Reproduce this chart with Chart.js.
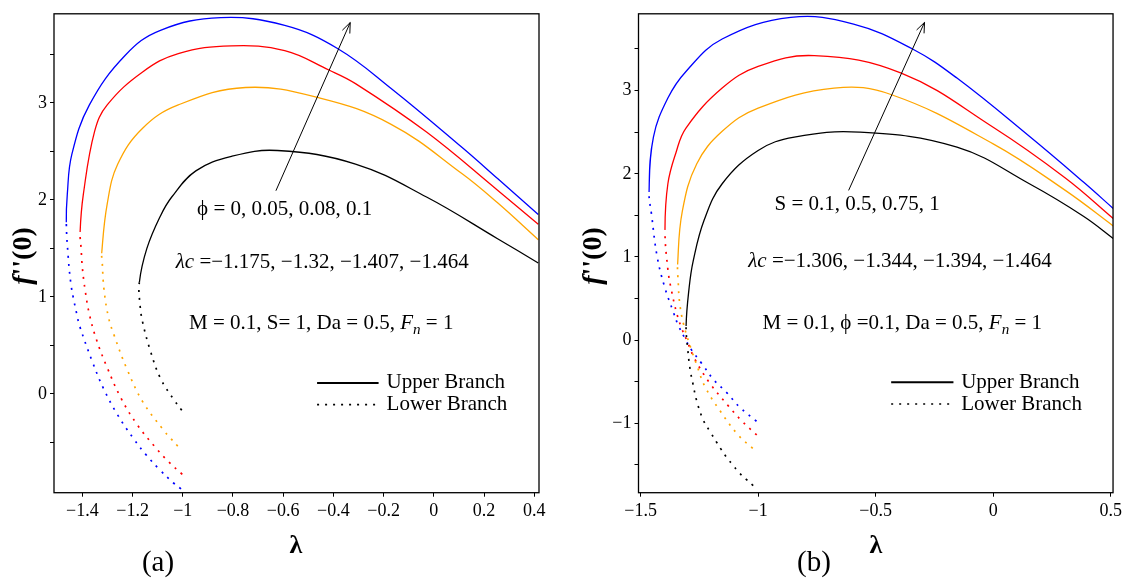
<!DOCTYPE html>
<html>
<head>
<meta charset="utf-8">
<script src="https://cdn.jsdelivr.net/npm/chart.js@4.4.0/dist/chart.umd.min.js"></script>
<style>
  html, body { margin: 0; padding: 0; background: #fff; }
  #wrap { position: relative; width: 1126px; height: 581px; }
  .panel { position: absolute; top: 0; width: 563px; height: 581px; }
</style>
</head>
<body>
<div id="wrap">
  <div class="panel" style="left:0"><canvas id="chartA" width="563" height="581"></canvas></div>
  <div class="panel" style="left:563px"><canvas id="chartB" width="563" height="581"></canvas></div>
</div>
<script>
// ---- panel (a): phi = 0, 0.05, 0.08, 0.1 ----
// upper and lower branches both start at the turning point lambda_c
const aXTicks = [-1.4, -1.2, -1, -0.8, -0.6, -0.4, -0.2, 0, 0.2, 0.4];
const aYTicks = [0, 1, 2, 3];
const aYMinor = [-0.5, 0.5, 1.5, 2.5, 3.5];

const aBlackUpX = [-1.173, -1.143, -1.090, -1.044, -0.948, -0.806, -0.623, -0.312, -0.029, 0.254, 0.416];
const aBlackUpY = [1.15, 1.50, 1.83, 2.03, 2.30, 2.45, 2.51, 2.37, 2.03, 1.60, 1.35];
const aBlackLoX = [-1.173, -1.170, -1.160, -1.131, -1.089, -1.033, -1.004];
const aBlackLoY = [1.15, 0.91, 0.74, 0.46, 0.16, -0.07, -0.17];

const aOrangeUpX = [-1.323, -1.301, -1.259, -1.160, -1.018, -0.750, -0.453, -0.170, 0.113, 0.254, 0.416];
const aOrangeUpY = [1.45, 1.96, 2.37, 2.74, 2.98, 3.16, 3.05, 2.78, 2.27, 1.97, 1.59];
const aOrangeLoX = [-1.323, -1.321, -1.314, -1.296, -1.273, -1.223, -1.160, -1.075, -1.048, -1.020];
const aOrangeLoY = [1.45, 1.36, 1.08, 0.79, 0.60, 0.26, -0.08, -0.38, -0.46, -0.54];

const aRedUpX = [-1.409, -1.396, -1.351, -1.301, -1.160, -1.018, -0.806, -0.594, -0.418, -0.312, -0.029, 0.254, 0.416];
const aRedUpY = [1.67, 2.06, 2.71, 2.98, 3.32, 3.51, 3.59, 3.54, 3.34, 3.20, 2.70, 2.10, 1.75];
const aRedLoX = [-1.409, -1.405, -1.400, -1.389, -1.372, -1.344, -1.301, -1.245, -1.181, -1.110, -1.057, -1.002];
const aRedLoY = [1.67, 1.50, 1.30, 1.07, 0.82, 0.56, 0.27, -0.05, -0.32, -0.55, -0.70, -0.83];

const aBlueUpX = [-1.464, -1.460, -1.442, -1.372, -1.230, -1.089, -0.849, -0.594, -0.382, -0.170, 0.113, 0.254, 0.416];
const aBlueUpY = [1.77, 2.06, 2.47, 2.98, 3.49, 3.75, 3.88, 3.80, 3.56, 3.15, 2.54, 2.22, 1.85];
const aBlueLoX = [-1.464, -1.456, -1.446, -1.436, -1.422, -1.411, -1.360, -1.315, -1.259, -1.194, -1.146, -1.093, -1.037, -1.007];
const aBlueLoY = [1.77, 1.40, 1.14, 0.99, 0.82, 0.70, 0.33, 0.05, -0.22, -0.47, -0.63, -0.78, -0.92, -0.98];

// ---- panel (b): S = 0.1, 0.5, 0.75, 1 ----
const bXTicks = [-1.5, -1, -0.5, 0, 0.5];
const bYTicks = [-1, 0, 1, 2, 3];
const bYMinor = [-1.5, -0.5, 0.5, 1.5, 2.5, 3.5];

const bBlackUpX = [-1.3065, -1.294, -1.2764, -1.230, -1.153, -1.000, -0.846, -0.569, -0.154, 0.154, 0.384, 0.512];
const bBlackUpY = [0.17, 0.62, 0.95, 1.44, 1.88, 2.28, 2.44, 2.50, 2.32, 1.88, 1.49, 1.22];
const bBlackLoX = [-1.3065, -1.2997, -1.290, -1.277, -1.2614, -1.2333, -1.200, -1.176, -1.158, -1.134, -1.108, -1.082, -1.052, -1.021];
const bBlackLoY = [0.17, -0.10, -0.34, -0.53, -0.73, -0.96, -1.12, -1.23, -1.31, -1.41, -1.50, -1.59, -1.67, -1.75];

const bOrangeUpX = [-1.3425, -1.3225, -1.261, -1.153, -1.000, -0.677, -0.432, 0.000, 0.307, 0.512];
const bOrangeUpY = [0.91, 1.55, 2.12, 2.51, 2.79, 3.03, 2.95, 2.36, 1.80, 1.37];
const bOrangeLoX = [-1.3425, -1.340, -1.334, -1.318, -1.286, -1.261, -1.226, -1.162, -1.085, -1.023];
const bOrangeLoY = [0.91, 0.70, 0.45, 0.20, -0.10, -0.30, -0.56, -0.85, -1.14, -1.30];

const bRedUpX = [-1.3963, -1.384, -1.350, -1.307, -1.153, -1.000, -0.761, -0.391, 0.000, 0.307, 0.512];
const bRedUpY = [1.33, 1.88, 2.25, 2.55, 3.03, 3.29, 3.42, 3.21, 2.56, 1.95, 1.46];
const bRedLoX = [-1.3963, -1.384, -1.369, -1.346, -1.325, -1.301, -1.269, -1.205, -1.127, -1.070, -1.006];
const bRedLoY = [1.33, 0.85, 0.60, 0.32, 0.14, -0.02, -0.23, -0.52, -0.79, -0.97, -1.14];

const bBlueUpX = [-1.464, -1.4455, -1.384, -1.307, -1.153, -0.861, -0.594, -0.343, -0.154, 0.154, 0.384, 0.512];
const bBlueUpY = [1.78, 2.44, 2.91, 3.23, 3.62, 3.88, 3.80, 3.50, 3.15, 2.45, 1.90, 1.58];
const bBlueLoX = [-1.464, -1.453, -1.430, -1.399, -1.361, -1.340, -1.311, -1.283, -1.240, -1.191, -1.134, -1.077, -1.007];
const bBlueLoY = [1.78, 1.50, 1.01, 0.65, 0.34, 0.18, 0.02, -0.12, -0.28, -0.47, -0.63, -0.81, -0.975];

const SERIF = '"Liberation Serif", "Times New Roman", serif';
const BLACK = '#000000', ORANGE = '#ffa500', RED = '#ff0000', BLUE = '#0000ff';
const NOTE_SIZE = 21;

// one path per colour: lower branch walked back to the turning point, then the upper branch
function branchPair(upX, upY, loX, loY, color) {
  const pts = [];
  for (let i = loX.length - 1; i >= 0; i--) pts.push({ x: loX[i], y: loY[i] });
  for (let i = 1; i < upX.length; i++) pts.push({ x: upX[i], y: upY[i] });
  const nose = loX.length - 1;
  return {
    data: pts,
    borderColor: color,
    borderWidth: 1.3,
    pointRadius: 0,
    fill: false,
    tension: 0.4,
    segment: {
      borderDash: c => (c.p0DataIndex < nose ? [2, 6] : undefined),
      borderWidth: c => (c.p0DataIndex < nose ? 1.7 : undefined)
    }
  };
}

function fmt(v) {
  return String(v).replace('-', '\u2212');
}

function fontOf(p, size) {
  return (p.italic ? 'italic ' : '') + (p.bold ? 'bold ' : '') + size + 'px ' + SERIF;
}

function partsWidth(ctx, parts, size) {
  let w = 0;
  parts.forEach(p => {
    ctx.font = fontOf(p, p.sub ? size * 0.72 : size);
    w += ctx.measureText(p.t).width;
  });
  return w;
}

function drawParts(ctx, x, y, parts, size) {
  let cx = x;
  parts.forEach(p => {
    const sz = p.sub ? size * 0.72 : size;
    ctx.font = fontOf(p, sz);
    ctx.fillText(p.t, cx, y + (p.sub ? size * 0.32 : 0));
    cx += ctx.measureText(p.t).width;
  });
}

// frame, notes, legend, arrow, axis titles
function decorations(cfg) {
  return {
    id: 'decorations',
    afterDraw(chart) {
      const ctx = chart.ctx, a = chart.chartArea;
      const sx = chart.scales.x, sy = chart.scales.y;
      const px = v => sx.getPixelForValue(v);
      const py = v => sy.getPixelForValue(v);
      ctx.save();
      ctx.strokeStyle = '#000';
      ctx.fillStyle = '#000';
      ctx.lineWidth = 1.3;
      ctx.strokeRect(a.left, a.top, a.right - a.left, a.bottom - a.top);

      ctx.textBaseline = 'middle';
      ctx.textAlign = 'left';
      cfg.notes.forEach(n => drawParts(ctx, px(n.x), py(n.y), n.parts, NOTE_SIZE));

      // legend
      const lg = cfg.legend;
      ctx.lineWidth = 2;
      ctx.beginPath();
      ctx.moveTo(px(lg.x0), py(lg.yUp));
      ctx.lineTo(px(lg.x1), py(lg.yUp));
      ctx.stroke();
      ctx.lineWidth = 1.7;
      ctx.setLineDash([2, 6]);
      ctx.beginPath();
      ctx.moveTo(px(lg.x0), py(lg.yLo));
      ctx.lineTo(px(lg.x1), py(lg.yLo));
      ctx.stroke();
      ctx.setLineDash([]);
      drawParts(ctx, px(lg.tx), py(lg.yUp), [{ t: 'Upper Branch' }], NOTE_SIZE);
      drawParts(ctx, px(lg.tx), py(lg.yLo), [{ t: 'Lower Branch' }], NOTE_SIZE);

      // arrow
      const x0 = px(cfg.arrow.from[0]), y0 = py(cfg.arrow.from[1]);
      const x1 = px(cfg.arrow.to[0]), y1 = py(cfg.arrow.to[1]);
      ctx.lineWidth = 1;
      ctx.beginPath();
      ctx.moveTo(x0, y0);
      ctx.lineTo(x1, y1);
      ctx.stroke();
      const ang = Math.atan2(y1 - y0, x1 - x0), L = 11, sp = 0.38;
      ctx.beginPath();
      ctx.moveTo(x1 - L * Math.cos(ang - sp), y1 - L * Math.sin(ang - sp));
      ctx.lineTo(x1, y1);
      ctx.lineTo(x1 - L * Math.cos(ang + sp), y1 - L * Math.sin(ang + sp));
      ctx.stroke();

      // axis titles and panel label
      ctx.textAlign = 'center';
      ctx.font = 'bold 26px ' + SERIF;
      ctx.fillText('\u03bb', cfg.xTitle[0], cfg.xTitle[1]);
      ctx.font = '29px ' + SERIF;
      ctx.fillText(cfg.tag, cfg.tagPos[0], cfg.tagPos[1]);

      ctx.translate(cfg.yTitle[0], cfg.yTitle[1]);
      ctx.rotate(-Math.PI / 2);
      ctx.textAlign = 'left';
      const yt = [{ t: 'f', italic: true, bold: true }, { t: "''(0)", bold: true }];
      drawParts(ctx, -partsWidth(ctx, yt, 28) / 2, 0, yt, 28);
      ctx.restore();
    }
  };
}

function makeChart(id, cfg) {
  const W = 563, H = 581;
  const ar = cfg.area;
  const tickFont = { family: SERIF, size: 18 };
  return new Chart(document.getElementById(id), {
    type: 'line',
    data: { datasets: cfg.series },
    options: {
      responsive: false,
      animation: false,
      events: [],
      layout: { padding: { left: 0, top: ar.top, right: W - ar.right, bottom: 0 } },
      plugins: { legend: { display: false }, tooltip: { enabled: false } },
      scales: {
        x: {
          type: 'linear',
          min: cfg.xMin,
          max: cfg.xMax,
          afterFit: s => { s.height = H - ar.bottom; },
          afterBuildTicks: s => { s.ticks = cfg.xTicks.map(v => ({ value: v })); },
          ticks: {
            autoSkip: false, maxRotation: 0, padding: 4, color: '#000', font: tickFont,
            callback: v => fmt(v)
          },
          grid: { drawOnChartArea: false, drawTicks: true, tickLength: 4, color: '#000', lineWidth: 1 },
          border: { display: false }
        },
        y: {
          type: 'linear',
          min: cfg.yMin,
          max: cfg.yMax,
          afterFit: s => { s.width = ar.left; },
          afterBuildTicks: s => {
            s.ticks = cfg.yTicks.concat(cfg.yMinor).sort((p, q) => p - q).map(v => ({ value: v }));
          },
          ticks: {
            autoSkip: false, padding: 3, color: '#000', font: tickFont,
            callback: v => (cfg.yTicks.includes(v) ? fmt(v) : '')
          },
          grid: { drawOnChartArea: false, drawTicks: true, tickLength: 4, color: '#000', lineWidth: 1 },
          border: { display: false }
        }
      }
    },
    plugins: [decorations(cfg)]
  });
}

makeChart('chartA', {
  area: { left: 54, right: 539, top: 8, bottom: 492.7 },
  xMin: -1.513, xMax: 0.419, yMin: -1.02, yMax: 3.92,
  xTicks: aXTicks, yTicks: aYTicks, yMinor: aYMinor,
  series: [
    branchPair(aBlackUpX, aBlackUpY, aBlackLoX, aBlackLoY, BLACK),
    branchPair(aOrangeUpX, aOrangeUpY, aOrangeLoX, aOrangeLoY, ORANGE),
    branchPair(aRedUpX, aRedUpY, aRedLoX, aRedLoY, RED),
    branchPair(aBlueUpX, aBlueUpY, aBlueLoX, aBlueLoY, BLUE)
  ],
  notes: [
    { x: -0.943, y: 1.900, parts: [{ t: '\u03d5 = 0, 0.05, 0.08, 0.1' }] },
    { x: -1.028, y: 1.357, parts: [{ t: '\u03bbc', italic: true }, { t: ' =\u22121.175, \u22121.32, \u22121.407, \u22121.464' }] },
    { x: -0.975, y: 0.724, parts: [{ t: 'M = 0.1, S= 1, Da = 0.5, ' }, { t: 'F', italic: true }, { t: 'n', italic: true, sub: true }, { t: ' = 1' }] }
  ],
  legend: { x0: -0.465, x1: -0.22, tx: -0.188, yUp: 0.112, yLo: -0.112 },
  arrow: { from: [-0.629, 2.095], to: [-0.333, 3.83] },
  xTitle: [296, 546], yTitle: [24, 256], tag: '(a)', tagPos: [158, 563]
});

makeChart('chartB', {
  area: { left: 75.5, right: 550.5, top: 8, bottom: 492.7 },
  xMin: -1.509, xMax: 0.510, yMin: -1.834, yMax: 3.923,
  xTicks: bXTicks, yTicks: bYTicks, yMinor: bYMinor,
  series: [
    branchPair(bBlackUpX, bBlackUpY, bBlackLoX, bBlackLoY, BLACK),
    branchPair(bOrangeUpX, bOrangeUpY, bOrangeLoX, bOrangeLoY, ORANGE),
    branchPair(bRedUpX, bRedUpY, bRedLoX, bRedLoY, RED),
    branchPair(bBlueUpX, bBlueUpY, bBlueLoX, bBlueLoY, BLUE)
  ],
  notes: [
    { x: -0.930, y: 1.625, parts: [{ t: 'S = 0.1, 0.5, 0.75, 1' }] },
    { x: -1.042, y: 0.945, parts: [{ t: '\u03bbc', italic: true }, { t: ' =\u22121.306, \u22121.344, \u22121.394, \u22121.464' }] },
    { x: -0.981, y: 0.200, parts: [{ t: 'M = 0.1, \u03d5 =0.1, Da = 0.5, ' }, { t: 'F', italic: true }, { t: 'n', italic: true, sub: true }, { t: ' = 1' }] }
  ],
  legend: { x0: -0.434, x1: -0.169, tx: -0.136, yUp: -0.507, yLo: -0.768 },
  arrow: { from: [-0.615, 1.80], to: [-0.292, 3.82] },
  xTitle: [313, 546], yTitle: [31, 256], tag: '(b)', tagPos: [251, 563]
});
</script>
</body>
</html>
